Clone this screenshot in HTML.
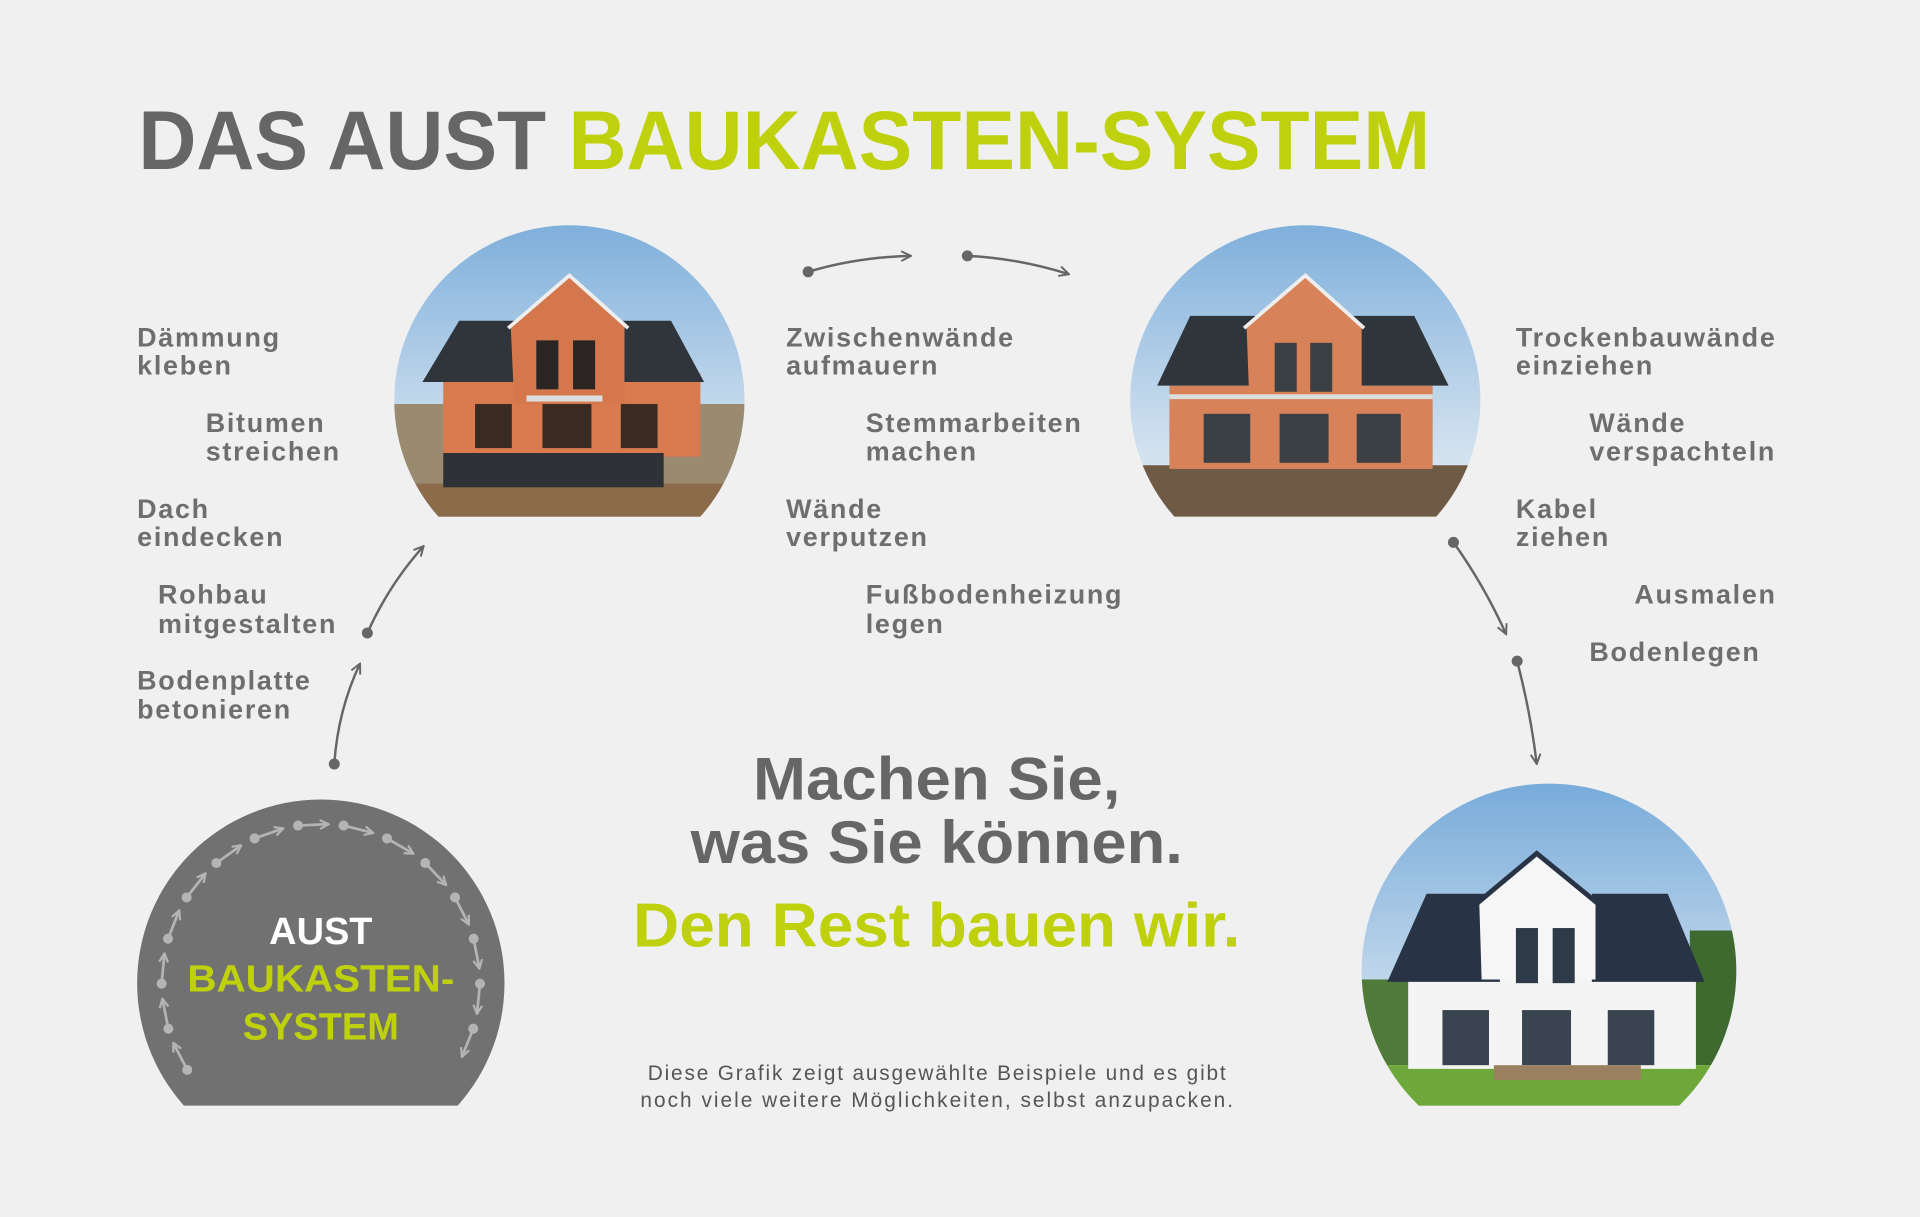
<!DOCTYPE html>
<html><head><meta charset="utf-8"><style>
html,body{margin:0;padding:0;background:#f0f0f0;}
svg{display:block;}
text{font-family:"Liberation Sans",sans-serif;font-weight:bold;}
.l{fill:#6e6e6e;font-size:22px;letter-spacing:1.4px;}
</style></head><body>
<svg width="1920" height="1217" viewBox="0 0 1568 994" preserveAspectRatio="none" xmlns="http://www.w3.org/2000/svg">
<defs>
<marker id="a" viewBox="0 0 10 10" refX="9" refY="5" markerWidth="10" markerHeight="10" markerUnits="userSpaceOnUse" orient="auto"><path d="M1,1 L9,5 L1,9" fill="none" stroke="#666" stroke-width="1.6"/></marker>
<marker id="b" viewBox="0 0 10 10" refX="9" refY="5" markerWidth="9" markerHeight="9" markerUnits="userSpaceOnUse" orient="auto"><path d="M1,1 L9,5 L1,9" fill="none" stroke="#b4b4b4" stroke-width="2"/></marker>
<linearGradient id="sky" x1="0" y1="0" x2="0" y2="1"><stop offset="0" stop-color="#6fa6d8"/><stop offset="0.7" stop-color="#c9dced"/><stop offset="1" stop-color="#e6edf2"/></linearGradient>
<clipPath id="c1"><rect x="300" y="150" width="330" height="272"/></clipPath>
<clipPath id="c2"><rect x="900" y="150" width="330" height="272"/></clipPath>
<clipPath id="c3"><rect x="1100" y="620" width="330" height="283"/></clipPath>
<clipPath id="c4"><rect x="100" y="640" width="330" height="263"/></clipPath>
<clipPath id="k1"><circle cx="465" cy="327" r="143"/></clipPath>
<clipPath id="k2"><circle cx="1066" cy="327" r="143"/></clipPath>
<clipPath id="k3"><circle cx="1265" cy="793" r="153"/></clipPath>
</defs>
<rect width="1568" height="994" fill="#f0f0f0"/>

<text x="113" y="138" font-size="68" textLength="1055" lengthAdjust="spacingAndGlyphs"><tspan fill="#666">DAS AUST </tspan><tspan fill="#bfd10d">BAUKASTEN-SYSTEM</tspan></text>

<g clip-path="url(#c1)"><g clip-path="url(#k1)">
<rect x="300" y="150" width="330" height="280" fill="url(#sky)"/>
<rect x="320" y="330" width="300" height="100" fill="#9a8a70"/>
<rect x="320" y="395" width="300" height="40" fill="#8b6b4a"/>
<rect x="362" y="305" width="210" height="68" fill="#d97a4f"/>
<rect x="362" y="370" width="180" height="28" fill="#2e3136"/>
<polygon points="345,312 375,262 428,262 430,312" fill="#2f353b"/>
<polygon points="495,262 548,262 575,312 495,312" fill="#2f353b"/>
<polygon points="417,265 465,225 510,265 510,330 420,330" fill="#d4774c"/>
<polyline points="415,268 465,225 513,268" fill="none" stroke="#eee" stroke-width="3"/>
<rect x="438" y="278" width="18" height="40" fill="#2a2422"/><rect x="468" y="278" width="18" height="40" fill="#2a2422"/>
<rect x="388" y="330" width="30" height="36" fill="#3a2b22"/><rect x="443" y="330" width="40" height="36" fill="#3a2b22"/><rect x="507" y="330" width="30" height="36" fill="#3a2b22"/>
<rect x="430" y="323" width="62" height="5" fill="#ddd"/>
</g></g>

<g clip-path="url(#c2)"><g clip-path="url(#k2)">
<rect x="900" y="150" width="330" height="280" fill="url(#sky)"/>
<rect x="920" y="380" width="300" height="50" fill="#6e5a45"/>
<rect x="955" y="315" width="215" height="68" fill="#d8825a"/>
<polygon points="945,315 972,258 1025,258 1030,315" fill="#2f353b"/>
<polygon points="1105,258 1155,258 1183,315 1105,315" fill="#2f353b"/>
<polygon points="1018,265 1066,225 1112,265 1112,320 1020,320" fill="#d8825a"/>
<polyline points="1016,268 1066,225 1114,268" fill="none" stroke="#eee" stroke-width="3"/>
<rect x="1041" y="280" width="18" height="40" fill="#3b4045"/><rect x="1070" y="280" width="18" height="40" fill="#3b4045"/>
<rect x="983" y="338" width="38" height="40" fill="#3b4045"/><rect x="1045" y="338" width="40" height="40" fill="#3b4045"/><rect x="1108" y="338" width="36" height="40" fill="#3b4045"/>
<rect x="955" y="322" width="215" height="4" fill="#ddd"/>
</g></g>

<g clip-path="url(#c3)"><g clip-path="url(#k3)">
<rect x="1100" y="620" width="330" height="290" fill="url(#sky)"/>
<rect x="1110" y="800" width="80" height="70" fill="#4f7a3a"/>
<rect x="1380" y="760" width="50" height="110" fill="#3e6a30"/>
<rect x="1110" y="870" width="320" height="40" fill="#6fa83a"/>
<rect x="1150" y="798" width="235" height="75" fill="#f4f4f4"/>
<polygon points="1133,802 1165,730 1220,730 1225,802" fill="#283445"/>
<polygon points="1300,730 1362,730 1392,802 1300,802" fill="#283445"/>
<polygon points="1208,735 1255,697 1303,735 1303,800 1210,800" fill="#f6f6f6"/>
<polyline points="1206,738 1255,697 1305,738" fill="none" stroke="#283445" stroke-width="4"/>
<rect x="1238" y="758" width="18" height="45" fill="#2e3a48"/><rect x="1268" y="758" width="18" height="45" fill="#2e3a48"/>
<rect x="1178" y="825" width="38" height="45" fill="#3a4450"/><rect x="1243" y="825" width="40" height="45" fill="#3a4450"/><rect x="1313" y="825" width="38" height="45" fill="#3a4450"/>
<rect x="1220" y="870" width="120" height="12" fill="#9a8060"/>
</g></g>

<g clip-path="url(#c4)"><circle cx="262" cy="803" r="150" fill="#717171"/></g>
<g stroke="#b4b4b4" stroke-width="2.2" fill="#b4b4b4">
<line x1="152.9" y1="873.8" x2="141.5" y2="851.7" marker-end="url(#b)"/><circle cx="152.9" cy="873.8" r="3"/>
<line x1="137.5" y1="840.2" x2="132.6" y2="815.7" marker-end="url(#b)"/><circle cx="137.5" cy="840.2" r="3"/>
<line x1="132" y1="803.4" x2="134.3" y2="778.7" marker-end="url(#b)"/><circle cx="132" cy="803.4" r="3"/>
<line x1="137.2" y1="766.7" x2="146.4" y2="743.6" marker-end="url(#b)"/><circle cx="137.2" cy="766.7" r="3"/>
<line x1="152.4" y1="733" x2="167.9" y2="713.3" marker-end="url(#b)"/><circle cx="152.4" cy="733" r="3"/>
<line x1="176.7" y1="704.9" x2="197" y2="690.4" marker-end="url(#b)"/><circle cx="176.7" cy="704.9" r="3"/>
<line x1="207.9" y1="684.8" x2="231.4" y2="676.6" marker-end="url(#b)"/><circle cx="207.9" cy="684.8" r="3"/>
<line x1="243.4" y1="674.3" x2="268.4" y2="673.1" marker-end="url(#b)"/><circle cx="243.4" cy="674.3" r="3"/>
<line x1="280.6" y1="674.3" x2="304.8" y2="680.3" marker-end="url(#b)"/><circle cx="280.6" cy="674.3" r="3"/>
<line x1="316.1" y1="684.8" x2="337.7" y2="697.3" marker-end="url(#b)"/><circle cx="316.1" cy="684.8" r="3"/>
<line x1="347.3" y1="704.9" x2="364.4" y2="722.9" marker-end="url(#b)"/><circle cx="347.3" cy="704.9" r="3"/>
<line x1="371.6" y1="733" x2="382.9" y2="755.2" marker-end="url(#b)"/><circle cx="371.6" cy="733" r="3"/>
<line x1="386.8" y1="766.7" x2="391.5" y2="791.2" marker-end="url(#b)"/><circle cx="386.8" cy="766.7" r="3"/>
<line x1="392" y1="803.4" x2="389.5" y2="828.2" marker-end="url(#b)"/><circle cx="392" cy="803.4" r="3"/>
<line x1="386.5" y1="840.2" x2="377.2" y2="863.2" marker-end="url(#b)"/><circle cx="386.5" cy="840.2" r="3"/>
</g>
<text x="262" y="771" font-size="31" fill="#fff" text-anchor="middle">AUST</text>
<text x="262" y="810" font-size="31" fill="#bfd10d" text-anchor="middle" textLength="218" lengthAdjust="spacingAndGlyphs">BAUKASTEN-</text>
<text x="262" y="849" font-size="31" fill="#bfd10d" text-anchor="middle">SYSTEM</text>

<g stroke="#666" stroke-width="2" fill="none">
<path d="M660,222 Q700,210 744,209" marker-end="url(#a)"/>
<path d="M790,209 Q832,211 873,224" marker-end="url(#a)"/>
<path d="M273,624 Q276,580 294,542" marker-end="url(#a)"/>
<path d="M300,517 Q318,477 346,446" marker-end="url(#a)"/>
<path d="M1187,443 Q1212,478 1230,518" marker-end="url(#a)"/>
<path d="M1239,540 Q1250,582 1255,624" marker-end="url(#a)"/>
</g>
<g fill="#666"><circle cx="660" cy="222" r="4.5"/><circle cx="790" cy="209" r="4.5"/><circle cx="273" cy="624" r="4.5"/><circle cx="300" cy="517" r="4.5"/><circle cx="1187" cy="443" r="4.5"/><circle cx="1239" cy="540" r="4.5"/></g>

<text class="l" x="112" y="283">Dämmung</text><text class="l" x="112" y="306">kleben</text>
<text class="l" x="168" y="353">Bitumen</text><text class="l" x="168" y="376">streichen</text>
<text class="l" x="112" y="423">Dach</text><text class="l" x="112" y="446">eindecken</text>
<text class="l" x="129" y="493">Rohbau</text><text class="l" x="129" y="517">mitgestalten</text>
<text class="l" x="112" y="563">Bodenplatte</text><text class="l" x="112" y="587">betonieren</text>

<text class="l" x="642" y="283">Zwischenwände</text><text class="l" x="642" y="306">aufmauern</text>
<text class="l" x="707" y="353">Stemmarbeiten</text><text class="l" x="707" y="376">machen</text>
<text class="l" x="642" y="423">Wände</text><text class="l" x="642" y="446">verputzen</text>
<text class="l" x="707" y="493">Fußbodenheizung</text><text class="l" x="707" y="517">legen</text>

<text class="l" x="1238" y="283">Trockenbauwände</text><text class="l" x="1238" y="306">einziehen</text>
<text class="l" x="1298" y="353">Wände</text><text class="l" x="1298" y="376">verspachteln</text>
<text class="l" x="1238" y="423">Kabel</text><text class="l" x="1238" y="446">ziehen</text>
<text class="l" x="1451" y="493" text-anchor="end">Ausmalen</text>
<text class="l" x="1298" y="540">Bodenlegen</text>

<text x="765" y="653" font-size="49" fill="#666" text-anchor="middle" textLength="300" lengthAdjust="spacingAndGlyphs">Machen Sie,</text>
<text x="765" y="705" font-size="49" fill="#666" text-anchor="middle" textLength="402" lengthAdjust="spacingAndGlyphs">was Sie können.</text>
<text x="765" y="773" font-size="51" fill="#bfd10d" text-anchor="middle" textLength="496" lengthAdjust="spacingAndGlyphs">Den Rest bauen wir.</text>
<text x="765" y="882" font-size="17" fill="#555" text-anchor="middle" style="font-weight:normal" textLength="472">Diese Grafik zeigt ausgewählte Beispiele und es gibt</text>
<text x="765" y="904" font-size="17" fill="#555" text-anchor="middle" style="font-weight:normal" textLength="484">noch viele weitere Möglichkeiten, selbst anzupacken.</text>
</svg>
</body></html>
